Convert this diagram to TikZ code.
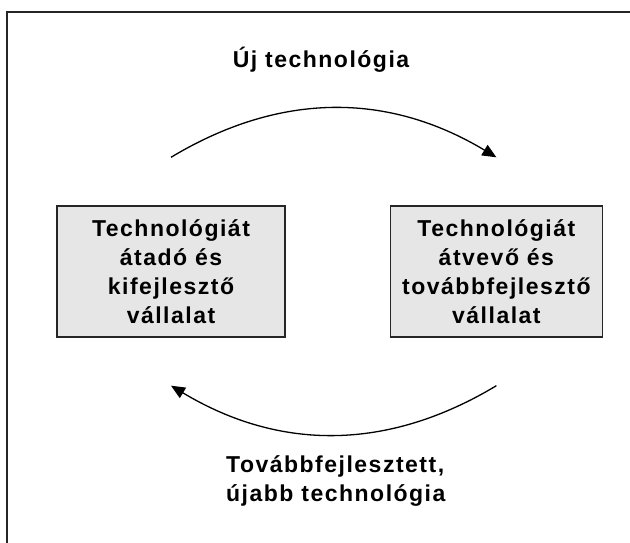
\documentclass[tikz,border=0pt]{standalone}
\usepackage{fontspec}
\setmainfont{Liberation Sans}[LetterSpace=6.5]
\usetikzlibrary{arrows.meta,positioning}
\definecolor{boxgray}{RGB}{230,230,230}
\tikzstyle{block}=[draw=black!85, line width=1.4pt, fill=boxgray, minimum height=131pt, align=center, inner sep=0pt, font=\bfseries\fontsize{23}{29}\selectfont]
\tikzstyle{arctext}=[inner sep=0pt, font=\bfseries\fontsize{23}{29}\selectfont]
\tikzstyle{arrow}=[line width=1.3pt, -{Triangle[length=14pt,width=12pt]}]

\begin{document}
\begin{tikzpicture}[x=1pt,y=1pt]
\useasboundingbox (0,0) rectangle (630,543);
\draw[line width=1.3pt, black!85] (7,0) -- (7,531) -- (631,531);
\node (giver) [block, minimum width=228pt] at (171,271.5) {Technológiát\\átadó és\\kifejlesztő\\vállalat};
\node (taker) [right=104pt of giver, block, minimum width=212pt] {Technológiát\\átvevő és\\továbbfejlesztő\\vállalat};
\node (newtech) [arctext, anchor=base] at (321,475) {Új technológia};
\node (furthertech) [arctext, align=left, anchor=base west] at (226,41) {Továbbfejlesztett,\\újabb technológia};
\coordinate (giverup) at ([yshift=48pt]giver.north);
\coordinate (takerup) at ([yshift=48pt]taker.north);
\coordinate (takerdown) at ([yshift=-48pt]taker.south);
\coordinate (giverdown) at ([yshift=-48pt]giver.south);
\draw[arrow] (giverup) to[bend left=31] (takerup);
\draw[arrow] (takerdown) to[bend left=31] (giverdown);
\end{tikzpicture}
\end{document}
